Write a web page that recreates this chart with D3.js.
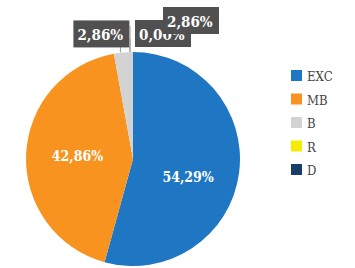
<!DOCTYPE html>
<html>
<head>
<meta charset="utf-8">
<script src="https://cdn.jsdelivr.net/npm/d3@7"></script>
<style>
  body { margin: 0; background: #fff; }
  svg { display: block; }
  text { font-family: "DejaVu Serif Condensed", "DejaVu Serif", serif; font-stretch: condensed; }
</style>
</head>
<body>
<svg id="chart" width="355" height="268"></svg>
<script>
// chart data
var categories = ["EXC", "MB", "B", "R", "D"];
var values = [54.29, 42.86, 2.86, 0.00, 0.00];
var labels = ["54,29%", "42,86%", "2,86%", "0,00%", "2,86%"];
var colors = ["#1f77c4", "#f7931e", "#d3d3d3", "#f5ec00", "#173e6b"];

window.onload = function(){
    drawPie();
    drawLegend();
};

function drawPie(){
    let svg = d3.select("#chart");
    let cx = 133, cy = 159, radius = 107;

    let pie = d3.pie().sort(null).value(function(d){ return d; });
    let arcs = pie(values);
    let arc = d3.arc().innerRadius(0).outerRadius(radius);
    let labelArc = d3.arc().innerRadius(radius * 0.52).outerRadius(radius * 0.52);

    let g = svg.append("g").attr("transform", `translate(${cx},${cy})`);

    g.selectAll("path")
        .data(arcs)
        .enter()
        .append("path")
        .attr("d", arc)
        .style("fill", function(d, i){ return colors[i]; });

    // big slices get labels inside, small ones get boxes outside
    arcs.forEach(function(d, i){
        if (d.endAngle - d.startAngle > 0.5) {
            let c = labelArc.centroid(d);
            g.append("text")
                .attr("x", c[0])
                .attr("y", c[1])
                .attr("dy", i == 0 ? "1.1em" : "0.35em")
                .attr("text-anchor", "middle")
                .style("font-weight", "bold")
                .style("font-size", "14px")
                .style("fill", "#fff")
                .text(labels[i]);
        }
    });

    let boxW = 56, boxH = 27;
    let placed = [];
    arcs.forEach(function(d, i){
        if (d.endAngle - d.startAngle > 0.5) return;
        let a = (d.startAngle + d.endAngle) / 2;
        let px = radius * Math.sin(a), py = -radius * Math.cos(a);
        let bx = a > Math.PI && a < 2 * Math.PI - 0.001 ? px - boxW + 6 : px + 2;
        let by = py - boxH - 5;
        // nudge up and right while overlapping an earlier box
        placed.forEach(function(p){
            if (Math.abs(p.x - bx) < boxW && Math.abs(p.y - by) < boxH) {
                bx += 28; by -= 13;
            }
        });
        placed.push({x: bx, y: by});

        g.append("line")
            .attr("x1", px - 3).attr("y1", py)
            .attr("x2", px - 3).attr("y2", by + boxH - 8)
            .style("stroke", "#999")
            .style("stroke-width", 1);

        g.append("rect")
            .attr("x", bx).attr("y", by)
            .attr("width", boxW).attr("height", boxH)
            .style("fill", "#505050");

        g.append("text")
            .attr("x", bx + 4)
            .attr("y", by + 20)
            .style("font-weight", "bold")
            .style("font-size", "15px")
            .style("fill", "#fff")
            .text(labels[i]);
    });
}

function drawLegend(){
    let svg = d3.select("#chart");
    let yScale = d3.scalePoint()
        .domain(categories)
        .range([76, 170]);

    let items = svg.selectAll("g.legend")
        .data(categories)
        .enter()
        .append("g")
        .attr("class", "legend")
        .attr("transform", function(d){ return `translate(291,${yScale(d)})`; });

    items.append("rect")
        .attr("x", 0).attr("y", -6)
        .attr("width", 11).attr("height", 11)
        .style("fill", function(d, i){ return colors[i]; });

    items.append("text")
        .attr("x", 16)
        .attr("y", 5)
        .style("font-size", "13px")
        .style("fill", "#444")
        .text(function(d){ return d; });
}
</script>
</body>
</html>
